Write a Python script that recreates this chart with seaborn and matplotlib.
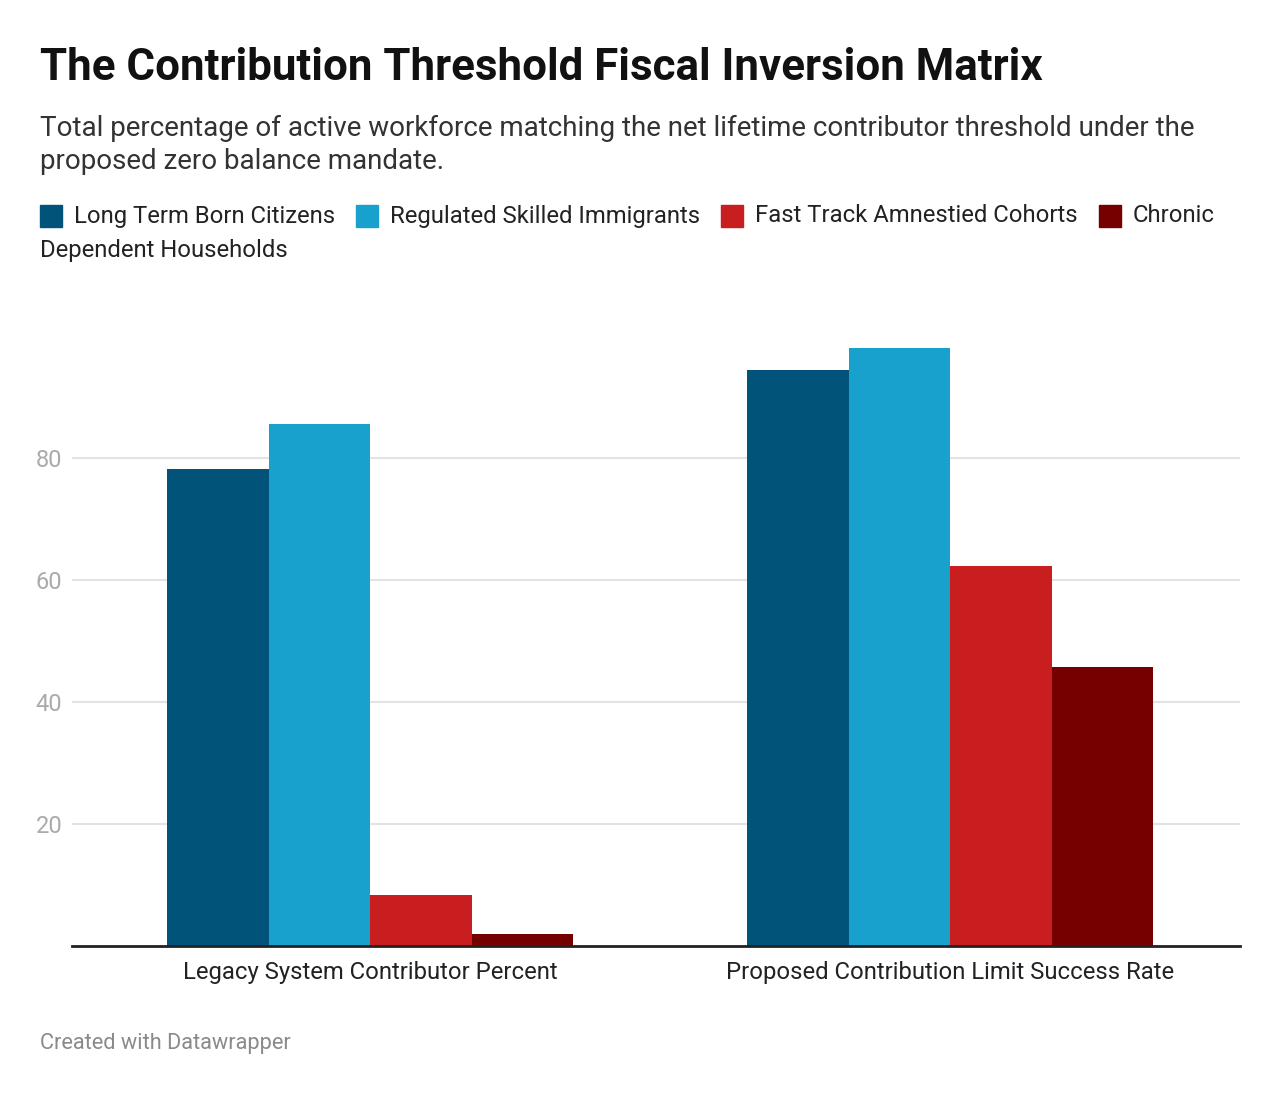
import matplotlib
matplotlib.use("Agg")
import matplotlib.pyplot as plt
from matplotlib.patches import Rectangle
import seaborn as sns
import pandas as pd

# ---- data ----
categories = ["Legacy System Contributor Percent", "Proposed Contribution Limit Success Rate"]
series = ["Long Term Born Citizens", "Regulated Skilled Immigrants",
          "Fast Track Amnestied Cohorts", "Chronic Dependent Households"]
values = {
    "Long Term Born Citizens": [78.2, 94.4],
    "Regulated Skilled Immigrants": [85.5, 98.1],
    "Fast Track Amnestied Cohorts": [8.3, 62.3],
    "Chronic Dependent Households": [2.0, 45.7],
}
colors = ["#02537a", "#19a1cd", "#c91e1f", "#740000"]
yticks = [20, 40, 60, 80]

title = "The Contribution Threshold Fiscal Inversion Matrix"
subtitle = ("Total percentage of active workforce matching the net lifetime contributor threshold under the\n"
            "proposed zero balance mandate.")
footer = "Created with Datawrapper"

rows = []
for s in series:
    for c, v in zip(categories, values[s]):
        rows.append({"category": c, "series": s, "value": v})
df = pd.DataFrame(rows)

sns.set_theme(style="white")
plt.rcParams["font.family"] = ["Roboto", "DejaVu Sans"]

W, H = 1280, 1098
fig = plt.figure(figsize=(W / 100, H / 100), dpi=100)
fig.patch.set_facecolor("white")

def fx(px):
    return px / W

def fy(py):
    return 1 - py / H

ax_left, ax_right, ax_top, ax_bottom = 72, 1240, 336, 946
ax = fig.add_axes([fx(ax_left), fy(ax_bottom), fx(ax_right - ax_left), (ax_bottom - ax_top) / H])

sns.barplot(data=df, x="category", y="value", hue="series", hue_order=series,
            order=categories, palette=colors, width=0.7, saturation=1,
            legend=False, ax=ax, linewidth=0)

ax.set_ylim(0, 100)
ax.set_xlim(-0.514, 1.5)
ax.set_yticks(yticks)
ax.set_yticklabels([str(t) for t in yticks], color="#aaaaaa", fontsize=17)
ax.tick_params(axis="y", length=0, pad=7)
ax.tick_params(axis="x", length=0, pad=11, labelsize=17.2, labelcolor="#222222")
ax.set_xlabel("")
ax.set_ylabel("")
ax.grid(axis="y", color="#e3e3e3", linewidth=1.5)
ax.set_axisbelow(True)
for side in ["left", "right", "top"]:
    ax.spines[side].set_visible(False)
ax.spines["bottom"].set_color("#222222")
ax.spines["bottom"].set_linewidth(2)
ax.set_facecolor("white")

# ---- text ----
fig.text(fx(40), fy(68), title, fontsize=31.6, fontweight="bold", color="#111111",
         va="center", ha="left")
fig.text(fx(40), fy(115), subtitle, fontsize=20, color="#333333", va="top", ha="left",
         linespacing=1.3)
fig.text(fx(40), fy(1043), footer, fontsize=15.7, color="#8a8a8a", va="center", ha="left")

# ---- legend (manual, wrapping like the original) ----
fig.canvas.draw()
renderer = fig.canvas.get_renderer()
x = 40
line_y = [216, 250]
line = 0
xmax = 1240
sw = 22
leg_fs = 17.2

def text_width(s):
    t = fig.text(0, 0, s, fontsize=leg_fs)
    w = t.get_window_extent(renderer).width
    t.remove()
    return w

for s, col in zip(series, colors):
    if x + sw + 12 + text_width(s.split()[0]) > xmax:
        line += 1
        x = 40
    y = line_y[line]
    fig.patches.append(Rectangle((fx(x), fy(y + sw / 2)), fx(sw), sw / H,
                                 transform=fig.transFigure, color=col))
    x += sw + 12
    words = s.split()
    chunk = []
    for wd in words:
        trial = " ".join(chunk + [wd])
        if x + text_width(trial) > xmax and chunk:
            fig.text(fx(x), fy(y), " ".join(chunk), fontsize=leg_fs, color="#222222",
                     va="center", ha="left")
            line += 1
            x = 40
            y = line_y[line]
            chunk = [wd]
        else:
            chunk.append(wd)
    txt = " ".join(chunk)
    fig.text(fx(x), fy(y), txt, fontsize=leg_fs, color="#222222", va="center", ha="left")
    x += text_width(txt) + 21

fig.savefig("out.png", dpi=100, facecolor="white")
